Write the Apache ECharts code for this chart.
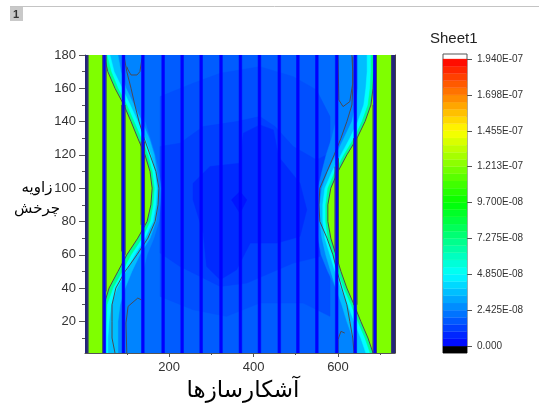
<!DOCTYPE html>
<html>
<head>
<meta charset="utf-8">
<style>html,body{margin:0;padding:0;background:#fff}#main{width:539px;height:418px}</style>
<script src="https://cdn.jsdelivr.net/npm/echarts@6/dist/echarts.min.js"></script>
</head>
<body>
<div id="main"></div>
<script>
var angleRows = [180,170,160,150,140,130,120,110,100,90,80,70,60,50,40,30,20,10,1];

// contour edges, one x per angle row
var leftGreen = [46,55,72,93,110,126,143,155,160,157,148,126,100,79,58,46,46,46,46];
var leftTeal  = [53,63,79,100,117,134,150,160,165,162,155,136,110,89,67,53,51,48,48];
var leftCyan  = [60,70,89,108,126,143,157,167,171,169,162,143,119,98,77,63,58,55,55];
var leftSky   = [79,86,98,117,136,153,165,171,176,174,169,155,131,112,96,84,79,79,79];
var leftAzure = [138,138,138,138,143,155,167,176,181,179,176,164,148,138,138,138,138,138,138];
var leftLight = [186,186,186,186,186,186,186,186,186,186,186,186,186,186,186,186,186,186,186];
var rightGreen = [685,685,683,678,664,645,621,600,583,576,576,583,595,607,621,638,654,671,683];
var rightTeal  = [678,678,676,671,657,638,614,593,576,571,571,576,588,600,614,631,647,664,676];
var rightCyan  = [669,669,666,661,647,628,607,586,569,564,564,569,581,593,607,623,638,654,666];
var rightSky   = [647,647,647,642,633,614,595,576,562,557,557,562,571,583,595,609,621,635,645];
var rightAzure = [595,595,595,595,595,585,572,562,553,550,550,553,560,576,595,595,595,595,595];
var rightLight = [550,550,550,550,550,550,550,550,550,550,550,550,550,550,550,550,550,550,550];
var leftLine  = [93,100,110,119,129,141,155,169,176,174,167,150,124,96,74,65,65,65,72];
var rightLine = [633,635,635,633,621,607,591,574,557,555,557,574,588,598,609,621,628,635,638];

// values of the filled levels
var fieldValue = 1.75e-8, lightValue = 2.0e-8, azureValue = 2.5e-8, skyValue = 3.6e-8;
var cyanValue = 4.85e-8, tealValue = 7e-8, greenValue = 1.21e-7;

// darker middle of the field
var blobA = [[179,155],[257,163],[321,169],[415,173],[494,167],[549,159],[581,143],[581,23],[518,31],[415,31],[336,23],[257,27],[179,35]];
var blobB = [[179,125],[226,127],[281,137],[360,140],[415,143],[451,137],[494,125],[549,117],[581,121],[557,59],[494,55],[384,43],[321,41],[226,53],[179,61]];
var blobC = [[257,103],[297,113],[368,115],[376,133],[415,138],[447,135],[459,119],[510,103],[526,87],[510,71],[455,67],[392,67],[360,51],[321,45],[289,53],[281,73],[257,93]];
var blobD = [[348,93],[368,98],[384,93],[368,85]];
var blobValues = [1.5e-8, 1.2e-8, 0.8e-8, 0.4e-8];

// small closed contours in the corners
var pocketTL = [[100,173],[103,171],[110,168],[124,168],[131,170],[136,178]];
var pocketBL = [[100,1],[98,19],[103,29],[126,34],[134,33]];
var pocketTR = [[600,180],[602,153],[612,149],[628,152],[635,163],[635,179]];
var pocketBR = [[600,1],[600,9],[607,14],[616,13]];

// columns where the signal is zero
var stripeCenters = [47,92,138,186,231,276,323,369,414,461,505,550,597,641,687];
var stripeEdges = [[8,1,180],[43,1,180],[51,38,180],[88,62,150],[96,60,150],[134,78,128],[142,78,128],
  [593,62,113],[601,55,118],[637,30,130],[645,30,130],[683,1,150],[691,1,180],[727,1,180]];

var xMajor = [200,400,600], xMinor = [100,300,500,700];
var yMajor = [20,40,60,80,100,120,140,160,180], yMinor = [10,30,50,70,90,110,130,150,170];

var scaleTicks = [0,2.425e-8,4.85e-8,7.275e-8,9.7e-8,1.213e-7,1.455e-7,1.698e-7,1.94e-7];
var scaleLabels = ['0.000','2.425E-08','4.850E-08','7.275E-08','9.700E-08','1.213E-07','1.455E-07','1.698E-07','1.940E-07'];
var scaleLevels = [0,0.485,0.97,1.455,1.94,2.425,2.91,3.395,3.88,4.365,4.85,5.335,5.82,6.305,6.79,7.275,7.76,8.245,8.73,9.215,
  9.7,10.185,10.67,11.155,11.64,12.125,12.61,13.095,13.58,14.065,14.55,15.035,15.52,16.005,16.49,16.975,17.46,17.945,18.43,18.915,19.4];
var rampStops = ['#0000ff','#0080ff','#00ffff','#00ff80','#00ff00','#80ff00','#ffff00','#ff8000','#ff0000'];

var textFont = 'Arial, "Liberation Sans", sans-serif';
var axisColor = '#555555';
var labelColor = '#333333';

function rampColor (v) {
  var t = Math.max(0, Math.min(0.9999, v / 1.94e-7)) * 8;
  var i = Math.floor(t);
  return echarts.color.lerp(t - i, [rampStops[i], rampStops[i + 1]]);
}

var shapes = [];

function addBand (edge, sideX, value) {
  var points = angleRows.map(function (a, i) { return [edge[i], a]; });
  points.push([sideX, 1]);
  points.push([sideX, 180]);
  shapes.push({points: points, fill: rampColor(value)});
}
function addLine (points, color, width) {
  shapes.push({points: points, stroke: color, width: width || 1});
}
function edgeLine (edge) {
  return angleRows.map(function (a, i) { return [edge[i], a]; });
}

shapes.push({points: [[1, 1],[735, 1],[735, 180],[1, 180]], fill: rampColor(fieldValue)});
addBand(leftLight, 1, lightValue);
addBand(rightLight, 735, lightValue);
[blobA, blobB, blobC, blobD].forEach(function (b, i) {
  shapes.push({points: b, fill: rampColor(blobValues[i])});
});
[[leftAzure, azureValue],[leftSky, skyValue],[leftCyan, cyanValue],[leftTeal, tealValue],[leftGreen, greenValue]].forEach(function (b) {
  addBand(b[0], 1, b[1]);
});
[[rightAzure, azureValue],[rightSky, skyValue],[rightCyan, cyanValue],[rightTeal, tealValue],[rightGreen, greenValue]].forEach(function (b) {
  addBand(b[0], 735, b[1]);
});

var contourColor = '#4a4a55';
[leftGreen, rightGreen, leftLine, rightLine].forEach(function (e) {
  addLine(edgeLine(e), contourColor, 1);
});
[pocketTL, pocketBL, pocketTR, pocketBR].forEach(function (p) {
  addLine(p, contourColor, 1);
});

stripeCenters.forEach(function (x) {
  shapes.push({points: [[x - 3.2, 1],[x + 3.2, 1],[x + 3.2, 180],[x - 3.2, 180]], fill: '#0000ff'});
});
shapes.push({points: [[1, 1],[8, 1],[8, 180],[1, 180]], fill: '#24247a'});
shapes.push({points: [[727, 1],[735, 1],[735, 180],[727, 180]], fill: '#24247a'});
stripeEdges.forEach(function (s) {
  addLine([[s[0], s[1]],[s[0], s[2]]], '#3a3a70', 1);
});

function renderShape (params, api) {
  var s = shapes[params.dataIndex];
  var pts = s.points.map(function (p) { return api.coord(p); });
  if (s.fill) {
    return {type: 'polygon', shape: {points: pts}, style: {fill: s.fill, stroke: s.fill, lineWidth: 0.5}};
  }
  return {type: 'polyline', shape: {points: pts}, style: {fill: null, stroke: s.stroke, lineWidth: s.width}};
}

var scaleCells = [];
scaleLevels.slice(0, -1).forEach(function (lv, i) {
  scaleCells.push([lv * 1e-8, scaleLevels[i + 1] * 1e-8, rampColor((lv + 0.24) * 1e-8)]);
});
scaleCells.unshift([-4.7e-9, 0, '#000000']);

function renderCell (params, api) {
  var c = scaleCells[params.dataIndex];
  var a = api.coord([0, c[1]]);
  var b = api.coord([1, c[0]]);
  return {type: 'rect', shape: {x: a[0], y: a[1], width: b[0] - a[0], height: b[1] - a[1]}, style: {fill: c[2], stroke: c[2], lineWidth: 0.3}};
}

function plotX (opt) {
  return Object.assign({type: 'value', gridIndex: 0, min: 1, max: 735, splitLine: {show: false},
    axisLine: {show: true, onZero: false, lineStyle: {color: axisColor}}, axisTick: {show: false}, axisLabel: {show: false}}, opt);
}
function plotY (opt) {
  return Object.assign({type: 'value', gridIndex: 0, min: 1, max: 180, splitLine: {show: false},
    axisLine: {show: true, onZero: false, lineStyle: {color: axisColor}}, axisTick: {show: false}, axisLabel: {show: false}}, opt);
}

var myChart = echarts.init(document.getElementById('main'));
var option = {
  animation: false,
  backgroundColor: '#ffffff',
  grid: [
    {left: 85, top: 55, width: 310, height: 298},
    {left: 443, top: 54, width: 24, height: 299, show: true, borderColor: '#555', borderWidth: 1, backgroundColor: '#fff'}
  ],
  title: [
    {text: '1', left: 13, top: 9, padding: 0, textStyle: {fontSize: 11, fontWeight: 'bold', color: '#333', fontFamily: textFont}},
    {text: 'Sheet1', left: 430, top: 31, padding: 0, textStyle: {fontSize: 15, fontWeight: 'normal', color: '#222', fontFamily: textFont}},
    {text: 'زاویه\nچرخش', left: 37, top: 178, padding: 0, textAlign: 'center', textStyle: {fontSize: 15, fontWeight: 'normal', color: '#000', lineHeight: 21, fontFamily: '"DejaVu Sans", sans-serif'}},
    {text: 'آشکارسازها', left: 243, top: 380, padding: 0, textAlign: 'center', textStyle: {fontSize: 23, fontWeight: 'normal', color: '#000', fontFamily: '"DejaVu Sans", sans-serif'}}
  ],
  graphic: [
    {type: 'rect', z: -1, shape: {x: 10, y: 7, width: 13, height: 14}, style: {fill: '#c9c9c9'}},
    {type: 'line', z: -1, shape: {x1: 10, y1: 6.5, x2: 539, y2: 6.5}, style: {stroke: '#c4c4c4', lineWidth: 1}}
  ],
  xAxis: [
    plotX({position: 'bottom', axisTick: {show: true, length: 4, customValues: xMajor, lineStyle: {color: axisColor}},
      axisLabel: {show: true, margin: 8, customValues: xMajor, fontSize: 13, color: labelColor, fontFamily: textFont}}),
    plotX({position: 'bottom', axisLine: {show: false}, axisTick: {show: true, length: 2, customValues: xMinor, lineStyle: {color: axisColor}}}),
    plotX({position: 'top', axisLine: {show: true, lineStyle: {color: '#5a2a2a', width: 1}}}),
    {type: 'value', gridIndex: 1, min: 0, max: 1, show: false}
  ],
  yAxis: [
    plotY({position: 'left', axisTick: {show: true, length: 6, customValues: yMajor, lineStyle: {color: axisColor}},
      axisLabel: {show: true, margin: 9, customValues: yMajor, fontSize: 13, color: labelColor, fontFamily: textFont}}),
    plotY({position: 'left', axisLine: {show: false}, axisTick: {show: true, length: 3, customValues: yMinor, lineStyle: {color: axisColor}}}),
    plotY({position: 'right', axisLine: {show: true, lineStyle: {color: '#444', width: 1}}}),
    {type: 'value', gridIndex: 1, position: 'right', min: -4.7e-9, max: 1.974e-7, splitLine: {show: false},
      axisLine: {show: false, onZero: false},
      axisTick: {show: true, length: 5, customValues: scaleTicks, lineStyle: {color: axisColor}},
      axisLabel: {show: true, margin: 10, customValues: scaleTicks, fontSize: 10, color: labelColor, fontFamily: textFont,
        formatter: function (v) {
          var i = scaleTicks.findIndex(function (t) { return Math.abs(t - v) < 1e-10; });
          return i < 0 ? '' : scaleLabels[i];
        }}}
  ],
  series: [
    {
      type: 'custom',
      coordinateSystem: 'cartesian2d',
      xAxisIndex: 0,
      yAxisIndex: 0,
      silent: true,
      clip: true,
      renderItem: renderShape,
      data: shapes.map(function (s, i) { return [i, 1]; })
    },
    {
      type: 'custom',
      coordinateSystem: 'cartesian2d',
      xAxisIndex: 3,
      yAxisIndex: 3,
      silent: true,
      renderItem: renderCell,
      data: scaleCells.map(function (c) { return [0, c[0]]; })
    }
  ]
};
myChart.setOption(option);
</script>
</body>
</html>
